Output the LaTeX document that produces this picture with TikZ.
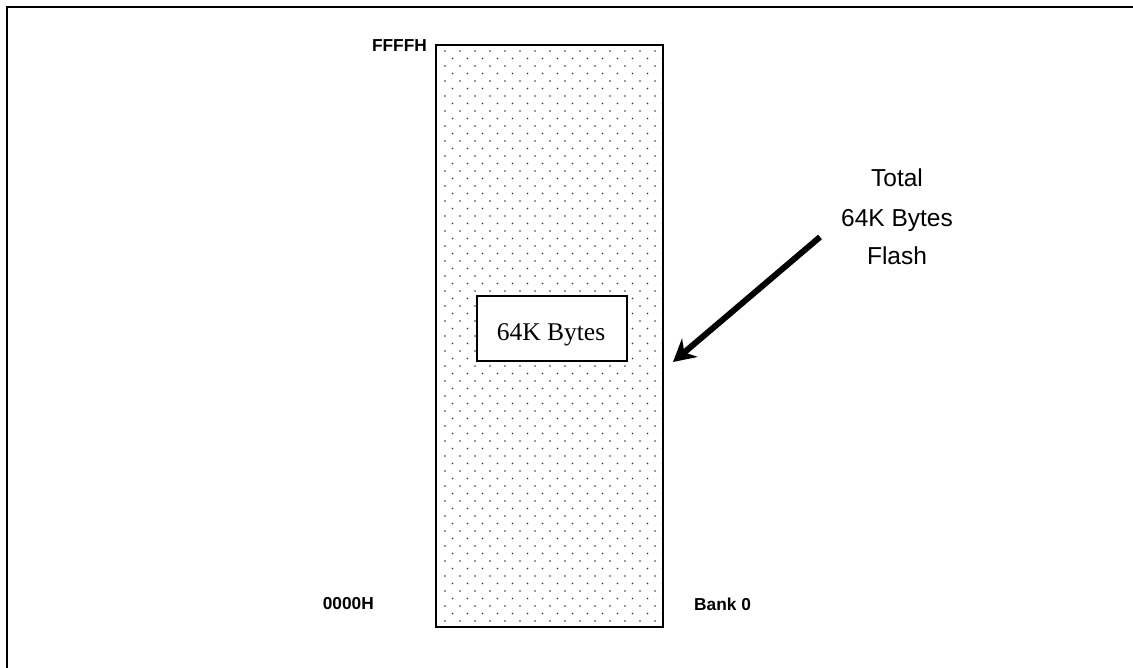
\documentclass[tikz,border=0pt]{standalone}
\usepackage{fontspec}
\setmainfont{Liberation Serif}
\newfontfamily\arialfont{Liberation Sans}
\usetikzlibrary{arrows.meta}
\begin{document}
\begin{tikzpicture}[x=1pt,y=-1pt,
  addr/.style={font=\arialfont\bfseries\fontsize{17.3}{20}\selectfont, inner sep=0pt},
  note/.style={font=\arialfont\fontsize{24.5}{28}\selectfont, inner sep=0pt, anchor=base},
  membank/.style={draw=black, line width=2.6pt},
  innerbox/.style={draw=black, line width=2.4pt, fill=white, inner sep=0pt, minimum width=150pt, minimum height=65pt},
  dotfill/.style={fill=black!80},
  bigarrow/.style={line width=6pt, -{Stealth[length=22pt,width=24pt]}}]
\useasboundingbox (0,0) rectangle (1133,668);
\fill[white] (0,0) rectangle (1133,668);
% frame (only top and left visible)
\draw[line width=2pt] (7,668) -- (7,7) -- (1133,7);
% dotted memory region
\begin{scope}
\clip (436,45) rectangle (663,627);
\foreach \r in {0,...,77} {
  \pgfmathsetmacro{\yy}{51+7.5*\r}
  \pgfmathsetmacro{\off}{mod(\r,2)==0 ? 0 : 7.5}
  \foreach \c in {0,...,15} {
    \fill[dotfill] (445+\off+15*\c,\yy) circle (0.95pt);
  }
}
\end{scope}
\node[membank, minimum width=227pt, minimum height=582pt, inner sep=0pt] (bank) at (549.5,336) {};
% inner box
\node[innerbox] (box) at (552,328.5) {};
\node[font=\fontsize{25.5}{28}\selectfont, inner sep=0pt, anchor=base] (boxtext) at (551,340.5) {64K Bytes};
% address labels
\node[addr, anchor=east] (top) at (427,46) {FFFFH};
\node[addr, anchor=east] (bottom) at (374,604) {0000H};
\node[addr, anchor=west] (banklabel) at (694,604) {Bank 0};
% note
\node[note] (n1) at (897,187) {Total};
\node[note] (n2) at (897,227) {64K Bytes};
\node[note] (n3) at (897,265) {Flash};
\coordinate (astart) at (820,237);
\coordinate (aend) at (673,362);
\draw[bigarrow] (astart) -- (aend);
\end{tikzpicture}
\end{document}
